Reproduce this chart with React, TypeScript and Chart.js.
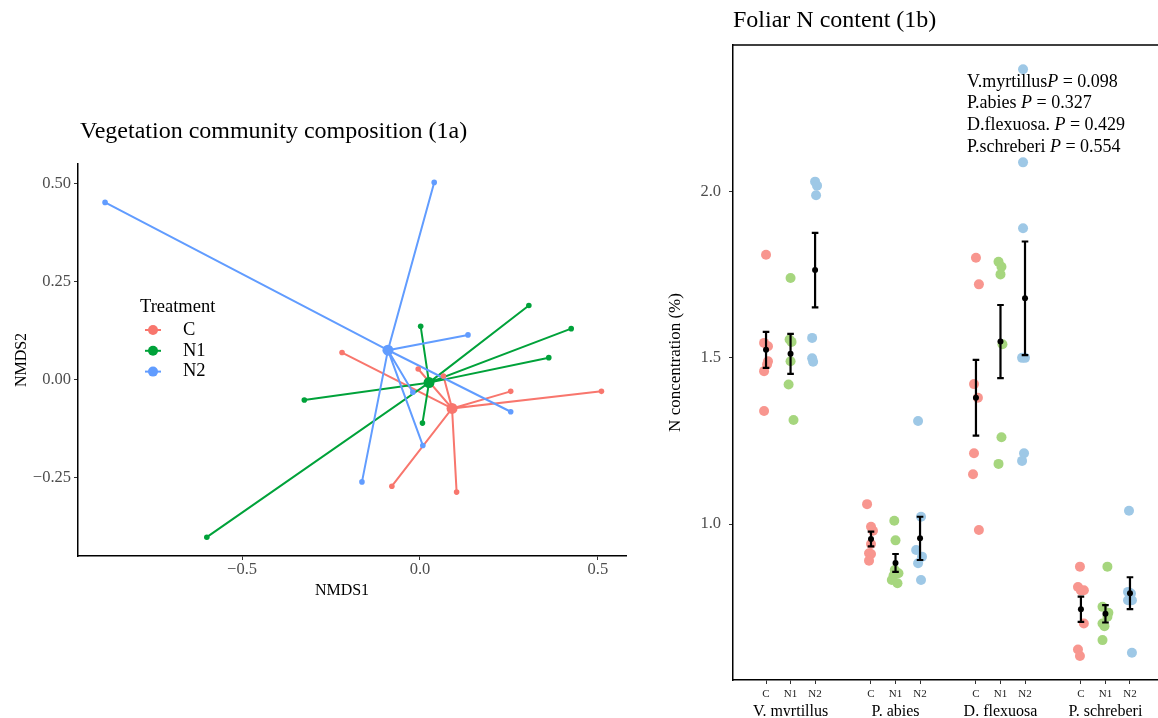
import React, { useEffect, useRef } from "react";
import { Chart, registerables } from "chart.js";

Chart.register(...registerables);

const FONT = '"Liberation Serif", "Times New Roman", serif';

// ---------- Left panel: NMDS site scores (1a) ----------
const treatments = ["C", "N1", "N2"];
const nmdsColors = ["#F8766D", "#00A23A", "#619CFF"];
const cNmds1 = [-0.219, -0.005, 0.066, 0.255, 0.51, 0.103, -0.079];
const cNmds2 = [0.07, 0.028, 0.01, -0.029, -0.029, -0.286, -0.271];
const n1Nmds1 = [0.306, 0.425, 0.362, 0.002, -0.325, 0.007, -0.599];
const n1Nmds2 = [0.19, 0.131, 0.057, 0.137, -0.051, -0.11, -0.401];
const n2Nmds1 = [-0.885, 0.04, 0.135, 0.255, 0.008, -0.163, -0.02];
const n2Nmds2 = [0.453, 0.504, 0.115, -0.081, -0.167, -0.26, -0.031];
const nmdsXTicks = [-0.5, 0, 0.5];
const nmdsYTicks = [-0.25, 0, 0.25, 0.5];

// ---------- Right panel: foliar N content (1b) ----------
const species = ["V. myrtillus", "P. abies", "D. flexuosa", "P. schreberi"];
const pointColors = ["#F8968F", "#A6D67E", "#9EC8E6"];
// values (N %), per species and treatment
const vmC = [1.81, 1.545, 1.535, 1.49, 1.48, 1.46, 1.34];
const vmN1 = [1.74, 1.555, 1.548, 1.49, 1.42, 1.313];
const vmN2 = [2.03, 2.018, 1.989, 1.56, 1.499, 1.488];
const paC = [1.06, 0.992, 0.98, 0.94, 0.912, 0.91, 0.89];
const paN1 = [1.01, 0.951, 0.862, 0.852, 0.845, 0.832, 0.822];
const paN2 = [1.31, 1.022, 0.922, 0.902, 0.882, 0.832];
const dfC = [1.801, 1.721, 1.421, 1.38, 1.213, 1.15, 0.982];
const dfN1 = [1.789, 1.774, 1.751, 1.541, 1.261, 1.181];
const dfN2 = [2.368, 2.088, 1.89, 1.5, 1.5, 1.213, 1.19];
const psC = [0.872, 0.811, 0.801, 0.8, 0.701, 0.623, 0.603];
const psN1 = [0.872, 0.751, 0.733, 0.721, 0.701, 0.693, 0.651];
const psN2 = [1.04, 0.796, 0.791, 0.771, 0.771, 0.613];
// horizontal jitter (fraction of dodge step)
const vmCJit = [0, -0.08, 0.08, 0.08, 0.04, -0.08, -0.08];
const vmN1Jit = [0, -0.04, 0.04, 0, -0.08, 0.12];
const vmN2Jit = [0, 0.08, 0.04, -0.12, -0.12, -0.08];
const paCJit = [-0.16, 0, 0.08, 0, -0.08, 0, -0.08];
const paN1Jit = [-0.05, 0, -0.03, 0.12, -0.08, -0.15, 0.08];
const paN2Jit = [-0.08, 0.04, -0.16, 0.08, -0.08, 0.04];
const dfCJit = [0, 0.12, -0.08, 0.08, -0.08, -0.12, 0.12];
const dfN1Jit = [-0.08, 0.04, 0, 0.08, 0.04, -0.08];
const dfN2Jit = [-0.08, -0.08, -0.08, -0.12, 0, -0.04, -0.12];
const psCJit = [-0.04, -0.12, 0.12, 0, 0.12, -0.12, -0.04];
const psN1Jit = [0.08, -0.12, 0.12, 0.08, -0.12, -0.04, -0.12];
const psN2Jit = [-0.04, -0.08, 0.04, -0.08, 0.08, 0.08];
// means and standard errors
const meanC = [1.524, 0.955, 1.38, 0.744];
const meanN1 = [1.512, 0.883, 1.549, 0.73];
const meanN2 = [1.764, 0.957, 1.679, 0.792];
const seC = [0.054, 0.022, 0.114, 0.038];
const seN1 = [0.06, 0.027, 0.11, 0.026];
const seN2 = [0.112, 0.065, 0.171, 0.048];
const nYTicks = [1.0, 1.5, 2.0];
const pLabels = ["V.myrtillus", "P.abies ", "D.flexuosa. ", "P.schreberi "];
const pValues = ["0.098", "0.327", "0.429", "0.554"];

const GAP = 4.28; // layout: distance between species groups in dodge steps

const mean = (a: number[]) => a.reduce((s, v) => s + v, 0) / a.length;
const fmt = (v: number, d: number) => {
  const s = Math.abs(v).toFixed(d);
  return v < -1e-9 ? "\u2212" + s : s;
};

function buildLeft(canvas: HTMLCanvasElement) {
  const groups = [
    [cNmds1, cNmds2],
    [n1Nmds1, n1Nmds2],
    [n2Nmds1, n2Nmds2],
  ];
  const datasets: any[] = [];
  groups.forEach(([xs, ys], i) => {
    const cx = mean(xs);
    const cy = mean(ys);
    const path: any[] = [];
    xs.forEach((x, j) => {
      path.push({ x: cx, y: cy });
      path.push({ x, y: ys[j] });
    });
    datasets.push({
      label: treatments[i] + " lines",
      data: path,
      showLine: true,
      borderColor: nmdsColors[i],
      borderWidth: 2,
      pointRadius: 0,
      order: 20 - i,
    });
  });
  groups.forEach(([xs, ys], i) => {
    const pts: any[] = xs.map((x, j) => ({ x, y: ys[j] }));
    pts.push({ x: mean(xs), y: mean(ys), c: true });
    datasets.push({
      label: treatments[i],
      data: pts,
      showLine: false,
      backgroundColor: nmdsColors[i],
      borderWidth: 0,
      pointRadius: (ctx: any) => (ctx.raw && ctx.raw.c ? 5.5 : 2.8),
      order: 10 - i,
    });
  });

  const textPlugin = {
    id: "leftTexts",
    afterDraw(chart: any) {
      const ctx = chart.ctx;
      const ca = chart.chartArea;
      ctx.save();
      ctx.fillStyle = "#000";
      ctx.font = `24px ${FONT}`;
      ctx.textAlign = "left";
      ctx.textBaseline = "alphabetic";
      ctx.fillText("Vegetation community composition (1a)", 80, 138);
      ctx.font = `16px ${FONT}`;
      ctx.textAlign = "center";
      ctx.textBaseline = "middle";
      ctx.fillText("NMDS1", 342, 591);
      ctx.save();
      ctx.translate(22, (ca.top + ca.bottom) / 2);
      ctx.rotate(-Math.PI / 2);
      ctx.fillText("NMDS2", 0, 0);
      ctx.restore();
      // legend
      ctx.textAlign = "left";
      ctx.font = `18.5px ${FONT}`;
      ctx.fillText("Treatment", 140, 307);
      treatments.forEach((t, i) => {
        const y = 330 + i * 20.8;
        ctx.strokeStyle = nmdsColors[i];
        ctx.lineWidth = 2;
        ctx.beginPath();
        ctx.moveTo(145, y);
        ctx.lineTo(161, y);
        ctx.stroke();
        ctx.fillStyle = nmdsColors[i];
        ctx.beginPath();
        ctx.arc(153, y, 5, 0, Math.PI * 2);
        ctx.fill();
        ctx.fillStyle = "#000";
        ctx.fillText(t, 183, y);
      });
      ctx.restore();
    },
  };

  return new Chart(canvas, {
    type: "scatter",
    data: { datasets },
    plugins: [textPlugin],
    options: {
      responsive: false,
      animation: false,
      devicePixelRatio: 1,
      layout: { padding: { left: 0, top: 164, right: 34, bottom: 132 } },
      plugins: {
        legend: { display: false },
        tooltip: { enabled: false },
        title: { display: false },
      },
      scales: {
        x: {
          type: "linear",
          min: -0.961,
          max: 0.579,
          afterBuildTicks: (s: any) => {
            s.ticks = nmdsXTicks.map((v) => ({ value: v }));
          },
          afterFit: (s: any) => {
            s.height = 30;
          },
          ticks: {
            callback: (v: any) => fmt(Number(v), 1),
            color: "#4D4D4D",
            font: { family: FONT, size: 16.5 },
            padding: 0,
            maxRotation: 0,
            autoSkip: false,
          },
          grid: { drawOnChartArea: false, drawTicks: true, tickLength: 4, color: "#333" },
          border: { display: true, color: "#000", width: 1.5 },
        },
        y: {
          type: "linear",
          min: -0.449,
          max: 0.551,
          afterBuildTicks: (s: any) => {
            s.ticks = nmdsYTicks.map((v) => ({ value: v }));
          },
          afterFit: (s: any) => {
            s.width = 78;
          },
          ticks: {
            callback: (v: any) => fmt(Number(v), 2),
            color: "#4D4D4D",
            font: { family: FONT, size: 16.5 },
            padding: 3,
            autoSkip: false,
          },
          grid: { drawOnChartArea: false, drawTicks: true, tickLength: 4, color: "#333" },
          border: { display: true, color: "#000", width: 1.5 },
        },
      },
    },
  } as any);
}

function buildRight(canvas: HTMLCanvasElement) {
  const vals = [
    [vmC, vmN1, vmN2],
    [paC, paN1, paN2],
    [dfC, dfN1, dfN2],
    [psC, psN1, psN2],
  ];
  const jits = [
    [vmCJit, vmN1Jit, vmN2Jit],
    [paCJit, paN1Jit, paN2Jit],
    [dfCJit, dfN1Jit, dfN2Jit],
    [psCJit, psN1Jit, psN2Jit],
  ];
  const means = [meanC, meanN1, meanN2];
  const ses = [seC, seN1, seN2];
  const xPos = (g: number, t: number) => g * GAP + (t - 1);

  const datasets: any[] = [];
  treatments.forEach((t, ti) => {
    const pts: any[] = [];
    species.forEach((_, g) => {
      vals[g][ti].forEach((v, k) => {
        pts.push({ x: xPos(g, ti) + jits[g][ti][k], y: v });
      });
    });
    datasets.push({
      label: t,
      data: pts,
      backgroundColor: pointColors[ti],
      borderWidth: 0,
      pointRadius: 5,
      order: 10,
    });
  });
  const meanPts: any[] = [];
  treatments.forEach((_, ti) => {
    species.forEach((_, g) => {
      meanPts.push({ x: xPos(g, ti), y: means[ti][g] });
    });
  });
  datasets.push({
    label: "mean",
    data: meanPts,
    backgroundColor: "#000",
    borderWidth: 0,
    pointRadius: 3,
    order: 0,
  });

  const subTicks: number[] = [];
  const subLabels: string[] = [];
  species.forEach((_, g) => {
    treatments.forEach((t, ti) => {
      subTicks.push(xPos(g, ti));
      subLabels.push(t);
    });
  });
  const spTicks = species.map((_, g) => xPos(g, 1));

  const errPlugin = {
    id: "errBars",
    afterDatasetsDraw(chart: any) {
      const ctx = chart.ctx;
      const xs = chart.scales.x;
      const ys = chart.scales.y;
      ctx.save();
      ctx.strokeStyle = "#000";
      ctx.lineWidth = 2.2;
      treatments.forEach((_, ti) => {
        species.forEach((_, g) => {
          const px = xs.getPixelForValue(xPos(g, ti));
          const lo = ys.getPixelForValue(means[ti][g] - ses[ti][g]);
          const hi = ys.getPixelForValue(means[ti][g] + ses[ti][g]);
          ctx.beginPath();
          ctx.moveTo(px, lo);
          ctx.lineTo(px, hi);
          ctx.moveTo(px - 3.3, lo);
          ctx.lineTo(px + 3.3, lo);
          ctx.moveTo(px - 3.3, hi);
          ctx.lineTo(px + 3.3, hi);
          ctx.stroke();
        });
      });
      ctx.restore();
    },
    afterDraw(chart: any) {
      const ctx = chart.ctx;
      const ca = chart.chartArea;
      ctx.save();
      // panel border (top / right)
      ctx.strokeStyle = "#000";
      ctx.lineWidth = 1.5;
      ctx.beginPath();
      ctx.moveTo(ca.left, ca.top);
      ctx.lineTo(ca.right, ca.top);
      ctx.lineTo(ca.right, ca.bottom);
      ctx.stroke();
      ctx.fillStyle = "#000";
      ctx.font = `24px ${FONT}`;
      ctx.textAlign = "left";
      ctx.textBaseline = "alphabetic";
      ctx.fillText("Foliar N content (1b)", ca.left, 27);
      ctx.font = `17px ${FONT}`;
      ctx.textAlign = "center";
      ctx.textBaseline = "middle";
      ctx.save();
      ctx.translate(36, (ca.top + ca.bottom) / 2);
      ctx.rotate(-Math.PI / 2);
      ctx.fillText("N concentration (%)", 0, 0);
      ctx.restore();
      ctx.textAlign = "left";
      const x0 = 327;
      pLabels.forEach((lab, i) => {
        const y = 82 + i * 21.7;
        ctx.font = `18px ${FONT}`;
        ctx.fillText(lab, x0, y);
        let x = x0 + ctx.measureText(lab).width;
        ctx.font = `italic 18px ${FONT}`;
        ctx.fillText("P", x, y);
        x += ctx.measureText("P").width;
        ctx.font = `18px ${FONT}`;
        ctx.fillText(" = " + pValues[i], x, y);
      });
      ctx.restore();
    },
  };

  return new Chart(canvas, {
    type: "scatter",
    data: { datasets },
    plugins: [errPlugin],
    options: {
      responsive: false,
      animation: false,
      devicePixelRatio: 1,
      layout: { padding: { left: 0, top: 45, right: 20, bottom: 2 } },
      plugins: {
        legend: { display: false },
        tooltip: { enabled: false },
        title: { display: false },
      },
      scales: {
        x: {
          type: "linear",
          position: "bottom",
          min: -2.347,
          max: 15.88,
          afterBuildTicks: (s: any) => {
            s.ticks = subTicks.map((v) => ({ value: v }));
          },
          afterFit: (s: any) => {
            s.height = 17;
          },
          ticks: {
            callback: (_v: any, i: number) => subLabels[i],
            color: "#222",
            font: { family: FONT, size: 11 },
            padding: 4,
            maxRotation: 0,
            autoSkip: false,
          },
          grid: { drawOnChartArea: false, drawTicks: true, tickLength: 4, color: "#333" },
          border: { display: true, color: "#000", width: 1.5 },
        },
        x2: {
          type: "linear",
          position: "bottom",
          min: -2.347,
          max: 15.88,
          afterBuildTicks: (s: any) => {
            s.ticks = spTicks.map((v) => ({ value: v }));
          },
          afterFit: (s: any) => {
            s.height = 19;
          },
          ticks: {
            callback: (_v: any, i: number) => species[i],
            color: "#000",
            font: { family: FONT, size: 16 },
            padding: 5,
            maxRotation: 0,
            autoSkip: false,
          },
          grid: { display: false, drawTicks: false },
          border: { display: false },
        },
        y: {
          type: "linear",
          min: 0.531,
          max: 2.441,
          afterBuildTicks: (s: any) => {
            s.ticks = nYTicks.map((v) => ({ value: v }));
          },
          afterFit: (s: any) => {
            s.width = 93;
          },
          ticks: {
            callback: (v: any) => Number(v).toFixed(1),
            color: "#4D4D4D",
            font: { family: FONT, size: 16.5 },
            padding: 8,
            autoSkip: false,
          },
          grid: { drawOnChartArea: false, drawTicks: true, tickLength: 4, color: "#333" },
          border: { display: true, color: "#000", width: 1.5 },
        },
      },
    },
  } as any);
}

export default function App() {
  const leftRef = useRef<HTMLCanvasElement>(null);
  const rightRef = useRef<HTMLCanvasElement>(null);
  useEffect(() => {
    const a = buildLeft(leftRef.current!);
    const b = buildRight(rightRef.current!);
    return () => {
      a.destroy();
      b.destroy();
    };
  }, []);
  return (
    <div
      style={{
        position: "absolute",
        left: 0,
        top: 0,
        width: 1158,
        height: 718,
        overflow: "hidden",
        background: "#fff",
      }}
    >
      <canvas ref={leftRef} width={660} height={718} style={{ position: "absolute", left: 0, top: 0 }} />
      <canvas ref={rightRef} width={560} height={718} style={{ position: "absolute", left: 640, top: 0 }} />
    </div>
  );
}
